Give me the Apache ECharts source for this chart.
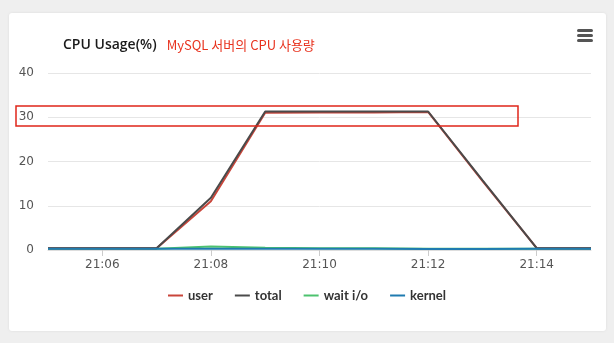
<!DOCTYPE html>
<html>
<head>
<meta charset="utf-8">
<script src="https://cdn.jsdelivr.net/npm/echarts@6/dist/echarts.min.js"></script>
<style>
html, body { margin: 0; padding: 0; background: #efefef; }
#canvas { width: 614px; height: 343px; }
</style>
</head>
<body>
<div id="canvas"></div>
<script>
var times = ['21:05','21:06','21:07','21:08','21:09','21:10','21:11','21:12','21:13','21:14','21:15'];
var userNum   = [0.4, 0.4, 0.4, 11.0, 31.0, 31.1, 31.1, 31.2, 15.6, 0.4, 0.4];
var totalNum  = [0.4, 0.4, 0.4, 11.8, 31.3, 31.3, 31.3, 31.3, 15.8, 0.4, 0.4];
var waitNum   = [0.3, 0.3, 0.3, 0.8, 0.5, 0.4, 0.4, 0.3, 0.3, 0.3, 0.3];
var kernelNum = [0.3, 0.3, 0.3, 0.3, 0.3, 0.3, 0.3, 0.2, 0.2, 0.3, 0.3];
var yTicks = [0, 10, 20, 30, 40];

var myChart = echarts.init(document.getElementById('canvas'));

function lineSeries(name, color, data, z) {
    return {
        name: name,
        type: 'line',
        data: data,
        symbol: 'none',
        smooth: false,
        z: z,
        lineStyle: { width: 2, color: color },
        itemStyle: { color: color }
    };
}

var option = {
    backgroundColor: '#efefef',
    animation: false,
    graphic: [
        {
            type: 'rect', z: -10,
            shape: { x: 9, y: 13, width: 597, height: 318, r: 3 },
            style: { fill: '#ffffff', shadowBlur: 3, shadowColor: 'rgba(0,0,0,0.08)' }
        },
        { type: 'rect', shape: { x: 577, y: 29, width: 16, height: 3, r: 1.5 }, style: { fill: '#555' } },
        { type: 'rect', shape: { x: 577, y: 34, width: 16, height: 3, r: 1.5 }, style: { fill: '#555' } },
        { type: 'rect', shape: { x: 577, y: 39, width: 16, height: 3, r: 1.5 }, style: { fill: '#555' } },
        {
            type: 'rect', z: 100,
            shape: { x: 16, y: 106, width: 502, height: 20 },
            style: { fill: 'none', stroke: '#e0261a', lineWidth: 1.5 }
        }
    ],
    title: {
        left: 58,
        top: 31,
        text: '{a|CPU Usage(%)}  {b|MySQL 서버의 CPU 사용량}',
        textStyle: {
            fontWeight: 'normal',
            rich: {
                a: { fontFamily: '"Open Sans", "Noto Sans CJK KR", sans-serif', fontSize: 14, fontWeight: 600, color: '#1a1a1a' },
                b: { fontFamily: '"Noto Sans CJK KR", sans-serif', fontSize: 13, fontWeight: 'normal', color: '#e8321e' }
            }
        }
    },
    legend: {
        bottom: 36,
        left: 'center',
        icon: 'rect',
        itemWidth: 15,
        itemHeight: 2,
        itemGap: 22,
        data: ['user', 'total', 'wait i/o', 'kernel'],
        textStyle: { fontFamily: 'Lato, sans-serif', fontSize: 13, fontWeight: 'bold', color: '#333', letterSpacing: 1 }
    },
    grid: { left: 48, right: 23, top: 73, bottom: 93 },
    xAxis: {
        type: 'category',
        boundaryGap: false,
        data: times,
        axisLine: { show: true, lineStyle: { color: '#dddddd' } },
        axisTick: {
            show: true, length: 6,
            interval: function (i) { return i % 2 === 1; },
            lineStyle: { color: '#cccccc' }
        },
        axisLabel: {
            interval: function (i) { return i % 2 === 1; },
            color: '#555', fontSize: 12, margin: 9,
            fontFamily: '"DejaVu Sans", sans-serif'
        }
    },
    yAxis: {
        type: 'value',
        min: yTicks[0],
        max: yTicks[yTicks.length - 1],
        interval: 10,
        axisLine: { show: false },
        axisTick: { show: false },
        axisLabel: { color: '#555', fontSize: 12, margin: 14, fontFamily: '"DejaVu Sans", sans-serif' },
        splitLine: { lineStyle: { color: '#e6e6e6' } }
    },
    series: [
        lineSeries('user', '#c9453a', userNum, 3),
        lineSeries('total', '#4a4a4a', totalNum, 4),
        lineSeries('wait i/o', '#4cc26e', waitNum, 2),
        lineSeries('kernel', '#1f7bb0', kernelNum, 5)
    ]
};

myChart.setOption(option);
window.onresize = myChart.resize;
</script>
</body>
</html>
